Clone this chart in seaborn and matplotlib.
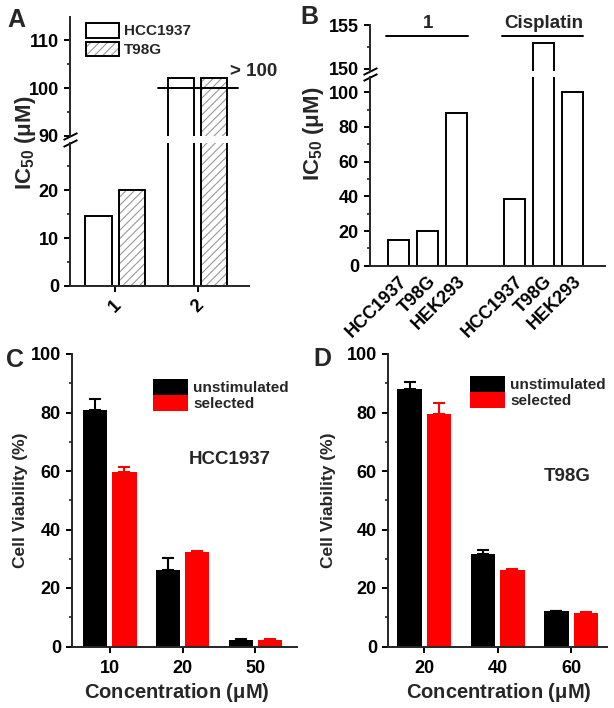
import numpy as np
import pandas as pd
import seaborn as sns
import matplotlib.pyplot as plt
import matplotlib.colors as mcolors

# panel A - IC50 of compounds 1 and 2
a_compounds = ['1', '2']
a_lines = ['HCC1937', 'T98G']
a_hcc = [14.6, 102.0]
a_t98 = [20.0, 102.0]

# panel B - IC50 of 1 and cisplatin
b_groups = ['1', 'Cisplatin']
b_cells = ['HCC1937', 'T98G', 'HEK293']
b_cmpd1 = [14.8, 20.0, 88.2]
b_cispt = [38.3, 153.0, 100.0]

# panel C - HCC1937 viability
c_conc = ['10', '20', '50']
c_unstim = [81.0, 26.3, 2.3]
c_unstim_err = [3.5, 3.8, 0.3]
c_sel = [59.5, 32.3, 2.1]
c_sel_err = [1.8, 0.2, 0.3]

# panel D - T98G viability
d_conc = ['20', '40', '60']
d_unstim = [88.2, 31.6, 12.0]
d_unstim_err = [2.3, 1.4, 0.3]
d_sel = [79.5, 26.0, 11.3]
d_sel_err = [3.8, 0.4, 0.4]

hue_names = ['unstimulated', 'selected']
bar_cols = ['#000000', '#ff0000']

sns.set_style('ticks')
plt.rcParams['font.family'] = ['Liberation Sans', 'DejaVu Sans']
plt.rcParams['font.weight'] = 'bold'
plt.rcParams['axes.labelweight'] = 'bold'
plt.rcParams['mathtext.fontset'] = 'custom'
plt.rcParams['mathtext.rm'] = 'Liberation Sans'
plt.rcParams['mathtext.bf'] = 'Liberation Sans:bold'
plt.rcParams['mathtext.default'] = 'regular'
plt.rcParams['axes.linewidth'] = 1.4
plt.rcParams['hatch.linewidth'] = 0.8

W, H = 614, 708
fig = plt.figure(figsize=(W / 100, H / 100), dpi=100)


def px_axes(x0, x1, ytop, ybot):
    # axes from pixel box
    return fig.add_axes([x0 / W, 1 - ybot / H, (x1 - x0) / W, (ybot - ytop) / H])


def style(ax, labelsize=13):
    sns.despine(ax=ax)
    ax.tick_params(axis='both', which='major', direction='out', length=4.5, width=1.4,
                   labelsize=labelsize, colors='black')
    ax.tick_params(axis='y', which='minor', direction='out', length=2.5, width=1.2)
    ax.set_xlabel('')
    ax.set_ylabel('')


def break_marks(ax_lo, ax_up):
    kw = dict(marker=[(-1, -0.5), (1, 0.5)], markersize=10, linestyle='none',
              color='k', mec='k', mew=1.4, clip_on=False)
    ax_lo.plot([0], [1], transform=ax_lo.transAxes, **kw)
    ax_up.plot([0], [0], transform=ax_up.transAxes, **kw)


ic50_lab = r'IC$_{\mathbf{50}}$ ($\mu$M)'

# ---------------- A ----------------
df_a = pd.DataFrame({'compound': a_compounds * 2,
                     'line': [a_lines[0]] * 2 + [a_lines[1]] * 2,
                     'ic50': a_hcc + a_t98})
ax_al = px_axes(70, 249, 143, 286)
ax_au = px_axes(70, 249, 17, 136)
for ax in (ax_al, ax_au):
    sns.barplot(data=df_a, x='compound', y='ic50', hue='line', hue_order=a_lines,
                palette=['white', 'white'], saturation=1, edgecolor='black', linewidth=1.4,
                gap=0.21, errorbar=None, legend=False, ax=ax)
    for p in ax.containers[1].patches:
        p.set_hatch('////')
        p._hatch_color = mcolors.to_rgba('#999999')
    ax.set_xlim(-0.545, 1.62)
    style(ax, 13)
ax_al.set_ylim(0, 29.8)
ax_al.set_yticks([0, 10, 20])
ax_al.set_yticks([5, 15, 25], minor=True)
ax_al.tick_params(axis='x', labelrotation=45)
ax_au.set_ylim(90, 114.8)
ax_au.set_yticks([90, 100, 110])
ax_au.set_yticks([95, 105], minor=True)
sns.despine(ax=ax_au, bottom=True)
ax_au.tick_params(axis='x', bottom=False, labelbottom=False)
break_marks(ax_al, ax_au)

bars2 = [c.patches[1] for c in ax_au.containers]
x0 = bars2[0].get_x() - 0.12
x1 = bars2[1].get_x() + bars2[1].get_width() + 0.13
ax_au.plot([x0, x1], [100, 100], color='black', lw=1.4, zorder=4)
ax_au.text(x1 - 0.1, 103.5, '> 100', fontsize=13.5, ha='left', va='center')
ax_au.legend([c.patches[0] for c in ax_au.containers], a_lines, loc='upper left',
             bbox_to_anchor=(0.088, 0.95), frameon=False, fontsize=11, handlelength=2.2,
             handleheight=1.1, labelspacing=0.2, handletextpad=0.3, borderpad=0, borderaxespad=0)
fig.text(26 / W, 1 - 143 / H, ic50_lab, rotation=90, ha='center', va='center', fontsize=16)

# ---------------- B ----------------
b_pos = [i + 4 * g for g in range(len(b_groups)) for i in range(len(b_cells))]
df_b = pd.DataFrame({'pos': b_pos, 'ic50': b_cmpd1 + b_cispt})
ax_bl = px_axes(370, 605, 77, 265.7)
ax_bu = px_axes(370, 605, 25, 71)
for ax in (ax_bl, ax_bu):
    sns.barplot(data=df_b, x='pos', y='ic50', native_scale=True, color='white', saturation=1,
                edgecolor='black', linewidth=1.4, width=0.73, errorbar=None, ax=ax)
    ax.set_xlim(-1.0, 7.13)
    style(ax, 13)
ax_bl.set_ylim(0, 108.8)
ax_bl.set_yticks(np.arange(0, 101, 20))
ax_bl.set_yticks(np.arange(10, 100, 20), minor=True)
ax_bl.set_xticks(b_pos)
ax_bl.set_xticklabels(b_cells * 2, rotation=45, ha='right', rotation_mode='anchor', fontsize=13)
ax_bl.tick_params(axis='x', length=0, pad=5)
ax_bu.set_ylim(149.77, 155)
ax_bu.set_yticks([150, 155])
ax_bu.set_yticks([152.5], minor=True)
sns.despine(ax=ax_bu, bottom=True)
ax_bu.tick_params(axis='x', bottom=False, labelbottom=False)
break_marks(ax_bl, ax_bu)
for g, name in enumerate(b_groups):
    gp = b_pos[g * 3:(g + 1) * 3]
    ax_bu.plot([gp[0] - 0.44, gp[-1] + 0.38], [153.7, 153.7], color='black', lw=1.4, clip_on=False)
    ax_bu.text((gp[0] + gp[-1]) / 2, 155.15, name, ha='center', va='center', fontsize=13.5)
fig.text(314 / W, 1 - 134 / H, ic50_lab, rotation=90, ha='center', va='center', fontsize=16)


# ---------------- C / D ----------------
def viability(box, conc, unstim, unstim_err, sel, sel_err, xlim, leg_xy, name, name_xy):
    df = pd.DataFrame({'conc': conc * 2,
                       'grp': [hue_names[0]] * len(conc) + [hue_names[1]] * len(conc),
                       'val': unstim + sel})
    ax = px_axes(*box)
    sns.barplot(data=df, x='conc', y='val', hue='grp', hue_order=hue_names, palette=bar_cols,
                saturation=1, linewidth=0, gap=0.17, errorbar=None, legend=False, ax=ax)
    bar_sets = list(ax.containers)
    for cont, errs, col in zip(bar_sets, [unstim_err, sel_err], bar_cols):
        xs = [p.get_x() + p.get_width() / 2 for p in cont.patches]
        ys = [p.get_height() for p in cont.patches]
        ax.errorbar(xs, ys, yerr=[np.zeros(len(errs)), errs], fmt='none', ecolor=col,
                    elinewidth=1.5, capsize=4.6, capthick=1.5, zorder=3)
    ax.set_xlim(*xlim)
    ax.set_ylim(0, 100)
    ax.set_yticks(np.arange(0, 101, 20))
    ax.set_yticks(np.arange(10, 100, 20), minor=True)
    style(ax, 13)
    ax.tick_params(axis='x', pad=5)
    ax.legend([c.patches[0] for c in bar_sets], hue_names, loc='upper left',
              bbox_to_anchor=leg_xy, frameon=False, fontsize=11, handlelength=2.3,
              handleheight=1.25, labelspacing=0, handletextpad=0.35, borderpad=0,
              borderaxespad=0)
    ax.text(*name_xy, name, transform=ax.transAxes, ha='center', va='center', fontsize=13.5)
    return ax


viability((72, 297, 354, 646.5), c_conc, c_unstim, c_unstim_err, c_sel, c_sel_err,
          (-0.52, 2.57), (0.36, 0.915), 'HCC1937', (0.702, 0.638))
viability((388, 607, 354, 646.5), d_conc, d_unstim, d_unstim_err, d_sel, d_sel_err,
          (-0.495, 2.49), (0.374, 0.925), 'T98G', (0.817, 0.58))
for xc, xl in [(21, 177), (328, 499)]:
    fig.text(xc / W, 1 - 500 / H, 'Cell Viability (%)', rotation=90, ha='center', va='center',
             fontsize=12.5)
    fig.text(xl / W, 1 - 692 / H, r'Concentration ($\mu$M)', ha='center', va='center',
             fontsize=14.5)

# panel letters
for lab, (lx, ly) in zip('ABCD', [(7, 8), (300, 5), (6, 348), (313, 347)]):
    fig.text(lx / W, 1 - ly / H, lab, ha='left', va='top', fontsize=18)

fig.savefig('out.png', dpi=100)
